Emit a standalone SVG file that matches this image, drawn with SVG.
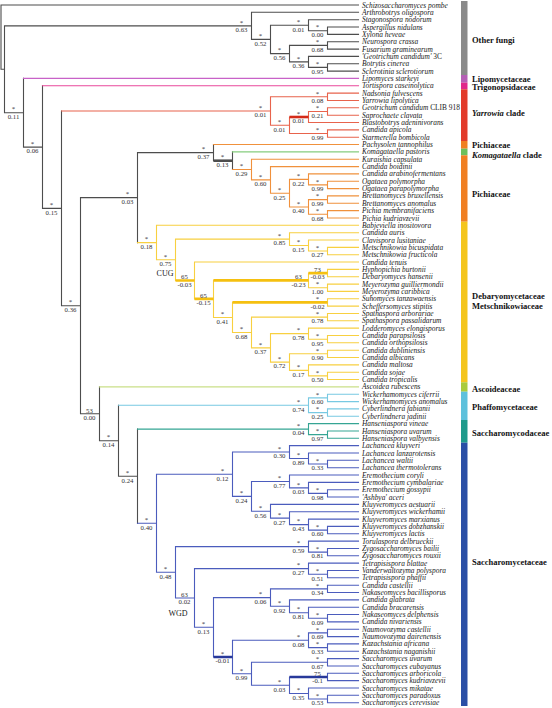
<svg xmlns="http://www.w3.org/2000/svg" width="552" height="708" viewBox="0 0 552 708">
<style>
.c path{fill:none;stroke-width:1.1;stroke-linecap:square}
.c .tk{stroke-width:2.6;stroke-linecap:butt}
.g{stroke:#4d4d4d}.lp{stroke:#c862c8}.tr{stroke:#e9479b}.ya{stroke:#e8634c}.yat{stroke:#d42a18}
.pi{stroke:#f0913c}.ko{stroke:#86cd7e}.cu{stroke:#f8d040}.cut{stroke:#f5c010}.as{stroke:#cadf88}
.ph{stroke:#78c9e2}.hs{stroke:#35a594}.sa{stroke:#4b5cbd}.sat{stroke:#28399a}
.lf text{font-family:"Liberation Serif","Times New Roman",serif;font-size:7.4px;font-style:italic;fill:#1a1a1a}
.lf .r{font-style:normal}
.nv text{font-family:"Liberation Serif","Times New Roman",serif;font-size:6.8px;fill:#333;text-anchor:middle}
.cl{font-family:"Liberation Serif","Times New Roman",serif;font-size:8.5px;font-weight:bold;fill:#111}
.an{font-family:"Liberation Serif","Times New Roman",serif;font-size:8px;fill:#222;text-anchor:middle}
</style>
<rect width="552" height="708" fill="#fff"/>
<g id="connectors" class="c">
<path class="g" d="M1 5V69.3M1 5H358.5M1 69.3H4.5M4.5 25.9V112.75M4.5 25.9H251.5M4.5 112.75H23.5M251.5 12.3V39.4M251.5 12.3H358.5M251.5 39.4H270.5M270.5 25.2V53.65M270.5 25.2H308.5M270.5 53.65H289.5M308.5 19.7V30.7M308.5 19.7H358.5M308.5 30.7H327.5M327.5 27V34.4M327.5 27H358.5M327.5 34.4H358.5M289.5 45.4V61.9M289.5 45.4H327.5M289.5 61.9H308.5M327.5 41.7V49.1M327.5 41.7H358.5M327.5 49.1H358.5M308.5 56.4V67.4M308.5 56.4H358.5M308.5 67.4H327.5M327.5 63.75V71.1M327.5 63.75H358.5M327.5 71.1H358.5M23.5 78.4V147.1M23.5 147.1H42.5M42.5 85.8V208.35M42.5 208.35H61.5M61.5 111V305.7M61.5 305.7H80.5M80.5 197.6V413.8M80.5 197.6H137.5M80.5 413.8H99.5M137.5 152.6V242.6M137.5 152.6H213.5M213.5 144.5V160.7M232.5 151.9V169.55M99.5 386.9V440.7M99.5 440.7H118.5M118.5 405.25V476.2M118.5 476.2H137.5M137.5 429.1V523.25"/>
<path class="g tk" d="M213.5 160.7H232.5"/>
<path class="lp" d="M23.5 78.4H358.5"/>
<path class="tr" d="M42.5 85.8H358.5"/>
<path class="ya" d="M61.5 111H270.5M270.5 96.8V125.25M270.5 96.8H327.5M270.5 125.25H289.5M327.5 93.1V100.5M327.5 93.1H358.5M327.5 100.5H358.5M289.5 117V133.5M289.5 133.5H327.5M308.5 111.5V122.5M308.5 111.5H327.5M308.5 122.5H358.5M327.5 107.8V115.2M327.5 107.8H358.5M327.5 115.2H358.5M327.5 129.85V137.2M327.5 129.85H358.5M327.5 137.2H358.5"/>
<path class="yat tk" d="M289.5 117H308.5"/>
<path class="pi" d="M213.5 144.5H358.5M232.5 169.55H251.5M251.5 159.2V179.9M251.5 159.2H358.5M251.5 179.9H270.5M270.5 166.6V193.2M270.5 166.6H358.5M270.5 193.2H289.5M289.5 179.4V206.95M289.5 179.4H308.5M289.5 206.95H308.5M308.5 173.9V184.9M308.5 173.9H358.5M308.5 184.9H327.5M327.5 181.3V188.6M327.5 181.3H358.5M327.5 188.6H358.5M308.5 199.6V214.3M308.5 199.6H327.5M308.5 214.3H327.5M327.5 195.9V203.3M327.5 195.9H358.5M327.5 203.3H358.5M327.5 210.6V218M327.5 210.6H358.5M327.5 218H358.5"/>
<path class="ko" d="M232.5 151.9H358.5"/>
<path class="cu" d="M137.5 242.6H156.5M156.5 225.3V259.8M156.5 225.3H358.5M156.5 259.8H175.5M175.5 239.1V280.5M175.5 239.1H289.5M289.5 232.7V245.5M289.5 232.7H358.5M289.5 245.5H308.5M308.5 240V251M308.5 240H358.5M308.5 251H327.5M327.5 247.35V254.7M327.5 247.35H358.5M327.5 254.7H358.5M194.5 262V298.9M194.5 262H358.5M213.5 280.4V317.45M213.5 317.45H232.5M308.5 273.1V287.7M308.5 287.7H327.5M327.5 269.4V276.7M327.5 269.4H358.5M327.5 276.7H358.5M327.5 284.1V291.4M327.5 284.1H358.5M327.5 291.4H358.5M232.5 302.4V332.5M232.5 332.5H251.5M327.5 298.8V306.1M327.5 298.8H358.5M327.5 306.1H358.5M251.5 317.1V347.9M251.5 317.1H327.5M251.5 347.9H270.5M327.5 313.45V320.8M327.5 313.45H358.5M327.5 320.8H358.5M270.5 333.6V362.1M270.5 333.6H308.5M270.5 362.1H289.5M308.5 328.1V339.2M308.5 328.1H358.5M308.5 339.2H327.5M327.5 335.5V342.8M327.5 335.5H358.5M327.5 342.8H358.5M289.5 353.8V370.4M289.5 353.8H327.5M289.5 370.4H308.5M327.5 350.2V357.5M327.5 350.2H358.5M327.5 357.5H358.5M308.5 364.9V375.9M308.5 364.9H358.5M308.5 375.9H327.5M327.5 372.2V379.5M327.5 372.2H358.5M327.5 379.5H358.5"/>
<path class="cut tk" d="M175.5 280.5H194.5M194.5 298.9H213.5M213.5 280.4H308.5M308.5 273.1H327.5M232.5 302.4H327.5"/>
<path class="as" d="M99.5 386.9H358.5"/>
<path class="ph" d="M118.5 405.25H308.5M308.5 397.9V412.6M308.5 397.9H327.5M308.5 412.6H327.5M327.5 394.2V401.6M327.5 394.2H358.5M327.5 401.6H358.5M327.5 408.9V416.3M327.5 408.9H358.5M327.5 416.3H358.5"/>
<path class="hs" d="M137.5 429.1H308.5M308.5 423.6V434.6M308.5 423.6H358.5M308.5 434.6H327.5M327.5 431V438.3M327.5 431H358.5M327.5 438.3H358.5"/>
<path class="sa" d="M137.5 523.25H156.5M156.5 474.2V572.3M156.5 474.2H232.5M156.5 572.3H175.5M232.5 452.05V496.4M232.5 452.05H289.5M232.5 496.4H251.5M289.5 445.6V458.5M289.5 445.6H358.5M289.5 458.5H308.5M308.5 453V464M308.5 453H358.5M308.5 464H327.5M327.5 460.3V467.7M327.5 460.3H358.5M327.5 467.7H358.5M251.5 481.45V511.3M251.5 481.45H289.5M251.5 511.3H270.5M289.5 475V487.9M289.5 475H358.5M289.5 487.9H308.5M308.5 482.4V493.4M308.5 482.4H358.5M308.5 493.4H327.5M327.5 489.7V497.05M327.5 489.7H358.5M327.5 497.05H358.5M270.5 504.4V518.15M270.5 504.4H358.5M270.5 518.15H289.5M289.5 511.7V524.6M289.5 511.7H358.5M289.5 524.6H308.5M308.5 519.1V530.1M308.5 519.1H358.5M308.5 530.1H327.5M327.5 526.4V533.8M327.5 526.4H358.5M327.5 533.8H358.5M175.5 546.6V598M175.5 546.6H308.5M175.5 598H194.5M308.5 541.1V552.1M308.5 541.1H358.5M308.5 552.1H327.5M327.5 548.5V555.8M327.5 548.5H358.5M327.5 555.8H358.5M194.5 568.65V627.3M194.5 568.65H308.5M194.5 627.3H213.5M308.5 563.1V574.2M308.5 563.1H358.5M308.5 574.2H327.5M327.5 570.5V577.8M327.5 570.5H358.5M327.5 577.8H358.5M213.5 597.6V657M213.5 597.6H270.5M270.5 588.85V606.3M270.5 588.85H327.5M270.5 606.3H289.5M327.5 585.2V592.5M327.5 585.2H358.5M327.5 592.5H358.5M289.5 599.9V612.7M289.5 599.9H358.5M289.5 612.7H308.5M308.5 607.2V618.2M308.5 607.2H358.5M308.5 618.2H327.5M327.5 614.55V621.9M327.5 614.55H358.5M327.5 621.9H358.5M232.5 640.25V673.8M232.5 640.25H308.5M232.5 673.8H251.5M308.5 632.9V647.6M308.5 632.9H327.5M308.5 647.6H327.5M327.5 629.2V636.6M327.5 629.2H358.5M327.5 636.6H358.5M327.5 643.9V651.3M327.5 643.9H358.5M327.5 651.3H358.5M251.5 662.3V685.25M251.5 662.3H327.5M251.5 685.25H289.5M327.5 658.6V666M327.5 658.6H358.5M327.5 666H358.5M289.5 677V693.5M289.5 693.5H308.5M327.5 673.3V680.65M327.5 673.3H358.5M327.5 680.65H358.5M308.5 688V699M308.5 688H358.5M308.5 699H327.5M327.5 695.3V702.7M327.5 695.3H358.5M327.5 702.7H358.5"/>
<path class="sat tk" d="M213.5 657H232.5M289.5 677H327.5"/>
</g>
<g id="taxa" class="lf">
<g id="t00"><text x="362" y="7.5">Schizosaccharomyces pombe</text></g>
<g id="t01"><text x="362" y="14.8">Arthrobotrys oligospora</text></g>
<g id="t02"><text x="362" y="22.2">Stagonospora nodorum</text></g>
<g id="t03"><text x="362" y="29.5">Aspergillus nidulans</text></g>
<g id="t04"><text x="362" y="36.9">Xylona heveae</text></g>
<g id="t05"><text x="362" y="44.2">Neurospora crassa</text></g>
<g id="t06"><text x="362" y="51.6">Fusarium graminearum</text></g>
<g id="t07"><text x="362" y="58.9">'Geotrichum candidum'<tspan class="r"> 3C</tspan></text></g>
<g id="t08"><text x="362" y="66.3">Botrytis cinerea</text></g>
<g id="t09"><text x="362" y="73.6">Sclerotinia sclerotiorum</text></g>
<g id="t10"><text x="362" y="80.9">Lipomyces starkeyi</text></g>
<g id="t11"><text x="362" y="88.3">Tortispora caseinolytica</text></g>
<g id="t12"><text x="362" y="95.6">Nadsonia fulvescens</text></g>
<g id="t13"><text x="362" y="103">Yarrowia lipolytica</text></g>
<g id="t14"><text x="362" y="110.3">Geotrichum candidum<tspan class="r"> CLIB 918</tspan></text></g>
<g id="t15"><text x="362" y="117.7">Saprochaete clavata</text></g>
<g id="t16"><text x="362" y="125">Blastobotrys adeninivorans</text></g>
<g id="t17"><text x="362" y="132.4">Candida apicola</text></g>
<g id="t18"><text x="362" y="139.7">Starmerella bombicola</text></g>
<g id="t19"><text x="362" y="147">Pachysolen tannophilus</text></g>
<g id="t20"><text x="362" y="154.4">Komagataella pastoris</text></g>
<g id="t21"><text x="362" y="161.7">Kuraishia capsulata</text></g>
<g id="t22"><text x="362" y="169.1">Candida boidinii</text></g>
<g id="t23"><text x="362" y="176.4">Candida arabinofermentans</text></g>
<g id="t24"><text x="362" y="183.8">Ogataea polymorpha</text></g>
<g id="t25"><text x="362" y="191.1">Ogataea parapolymorpha</text></g>
<g id="t26"><text x="362" y="198.4">Brettanomyces bruxellensis</text></g>
<g id="t27"><text x="362" y="205.8">Brettanomyces anomalus</text></g>
<g id="t28"><text x="362" y="213.1">Pichia membranifaciens</text></g>
<g id="t29"><text x="362" y="220.5">Pichia kudriavzevii</text></g>
<g id="t30"><text x="362" y="227.8">Babjeviella inositovora</text></g>
<g id="t31"><text x="362" y="235.2">Candida auris</text></g>
<g id="t32"><text x="362" y="242.5">Clavispora lusitaniae</text></g>
<g id="t33"><text x="362" y="249.9">Metschnikowia bicuspidata</text></g>
<g id="t34"><text x="362" y="257.2">Metschnikowia fructicola</text></g>
<g id="t35"><text x="362" y="264.5">Candida tenuis</text></g>
<g id="t36"><text x="362" y="271.9">Hyphopichia burtonii</text></g>
<g id="t37"><text x="362" y="279.2">Debaryomyces hansenii</text></g>
<g id="t38"><text x="362" y="286.6">Meyerozyma guilliermondii</text></g>
<g id="t39"><text x="362" y="293.9">Meyerozyma caribbica</text></g>
<g id="t40"><text x="362" y="301.3">Suhomyces tanzawaensis</text></g>
<g id="t41"><text x="362" y="308.6">Scheffersomyces stipitis</text></g>
<g id="t42"><text x="362" y="316">Spathaspora arborariae</text></g>
<g id="t43"><text x="362" y="323.3">Spathaspora passalidarum</text></g>
<g id="t44"><text x="362" y="330.6">Lodderomyces elongisporus</text></g>
<g id="t45"><text x="362" y="338">Candida parapsilosis</text></g>
<g id="t46"><text x="362" y="345.3">Candida orthopsilosis</text></g>
<g id="t47"><text x="362" y="352.7">Candida dubliniensis</text></g>
<g id="t48"><text x="362" y="360">Candida albicans</text></g>
<g id="t49"><text x="362" y="367.4">Candida maltosa</text></g>
<g id="t50"><text x="362" y="374.7">Candida sojae</text></g>
<g id="t51"><text x="362" y="382">Candida tropicalis</text></g>
<g id="t52"><text x="362" y="389.4">Ascoidea rubescens</text></g>
<g id="t53"><text x="362" y="396.7">Wickerhamomyces ciferrii</text></g>
<g id="t54"><text x="362" y="404.1">Wickerhamomyces anomalus</text></g>
<g id="t55"><text x="362" y="411.4">Cyberlindnera fabianii</text></g>
<g id="t56"><text x="362" y="418.8">Cyberlindnera jadinii</text></g>
<g id="t57"><text x="362" y="426.1">Hanseniaspora vineae</text></g>
<g id="t58"><text x="362" y="433.5">Hanseniaspora uvarum</text></g>
<g id="t59"><text x="362" y="440.8">Hanseniaspora valbyensis</text></g>
<g id="t60"><text x="362" y="448.1">Lachancea kluyveri</text></g>
<g id="t61"><text x="362" y="455.5">Lachancea lanzarotensis</text></g>
<g id="t62"><text x="362" y="462.8">Lachancea waltii</text></g>
<g id="t63"><text x="362" y="470.2">Lachancea thermotolerans</text></g>
<g id="t64"><text x="362" y="477.5">Eremothecium coryli</text></g>
<g id="t65"><text x="362" y="484.9">Eremothecium cymbalariae</text></g>
<g id="t66"><text x="362" y="492.2">Eremothecium gossypii</text></g>
<g id="t67"><text x="362" y="499.6">'Ashbya' aceri</text></g>
<g id="t68"><text x="362" y="506.9">Kluyveromyces aestuarii</text></g>
<g id="t69"><text x="362" y="514.2">Kluyveromyces wickerhamii</text></g>
<g id="t70"><text x="362" y="521.6">Kluyveromyces marxianus</text></g>
<g id="t71"><text x="362" y="528.9">Kluyveromyces dobzhanskii</text></g>
<g id="t72"><text x="362" y="536.3">Kluyveromyces lactis</text></g>
<g id="t73"><text x="362" y="543.6">Torulaspora delbrueckii</text></g>
<g id="t74"><text x="362" y="551">Zygosaccharomyces bailii</text></g>
<g id="t75"><text x="362" y="558.3">Zygosaccharomyces rouxii</text></g>
<g id="t76"><text x="362" y="565.6">Tetrapisispora blattae</text></g>
<g id="t77"><text x="362" y="573">Vanderwaltozyma polyspora</text></g>
<g id="t78"><text x="362" y="580.3">Tetrapisispora phaffii</text></g>
<g id="t79"><text x="362" y="587.7">Candida castellii</text></g>
<g id="t80"><text x="362" y="595">Nakaseomyces bacillisporus</text></g>
<g id="t81"><text x="362" y="602.4">Candida glabrata</text></g>
<g id="t82"><text x="362" y="609.7">Candida bracarensis</text></g>
<g id="t83"><text x="362" y="617.1">Nakaseomyces delphensis</text></g>
<g id="t84"><text x="362" y="624.4">Candida nivariensis</text></g>
<g id="t85"><text x="362" y="631.7">Naumovozyma castellii</text></g>
<g id="t86"><text x="362" y="639.1">Naumovozyma dairenensis</text></g>
<g id="t87"><text x="362" y="646.4">Kazachstania africana</text></g>
<g id="t88"><text x="362" y="653.8">Kazachstania naganishii</text></g>
<g id="t89"><text x="362" y="661.1">Saccharomyces uvarum</text></g>
<g id="t90"><text x="362" y="668.5">Saccharomyces eubayanus</text></g>
<g id="t91"><text x="362" y="675.8">Saccharomyces arboricola</text></g>
<g id="t92"><text x="362" y="683.2">Saccharomyces kudriavzevii</text></g>
<g id="t93"><text x="362" y="690.5">Saccharomyces mikatae</text></g>
<g id="t94"><text x="362" y="697.8">Saccharomyces paradoxus</text></g>
<g id="t95"><text x="362" y="705.2">Saccharomyces cerevisiae</text></g>
</g>
<g id="nodes" class="nv">
<g id="nB" transform="translate(13.5 112.75)"><text y="-1.3">*</text><text y="6.4">0.11</text></g>
<g id="nC" transform="translate(32.5 147.1)"><text y="-1.3">*</text><text y="6.4">0.06</text></g>
<g id="nD" transform="translate(51.5 208.35)"><text y="-1.3">*</text><text y="6.4">0.15</text></g>
<g id="nE" transform="translate(70.5 305.7)"><text y="-1.3">*</text><text y="6.4">0.36</text></g>
<g id="nF" transform="translate(89.5 413.8)"><text y="-1.3">53</text><text y="6.4">0.00</text></g>
<g id="nG" transform="translate(108.5 440.7)"><text y="-1.3">*</text><text y="6.4">0.14</text></g>
<g id="nH" transform="translate(127.5 476.2)"><text y="-1.3">*</text><text y="6.4">0.24</text></g>
<g id="nI" transform="translate(146.5 523.25)"><text y="-1.3">*</text><text y="6.4">0.40</text></g>
<g id="nOF" transform="translate(241.5 25.9)"><text y="-1.3">*</text><text y="6.4">0.63</text></g>
<g id="nOF2" transform="translate(260.5 39.4)"><text y="-1.3">*</text><text y="6.4">0.52</text></g>
<g id="nN1" transform="translate(298.5 25.2)"><text y="-1.3">*</text><text y="6.4">0.01</text></g>
<g id="nN1a" transform="translate(317.5 30.7)"><text y="-1.3">*</text><text y="6.4">0.00</text></g>
<g id="nN2" transform="translate(279.5 53.65)"><text y="-1.3">*</text><text y="6.4">0.56</text></g>
<g id="nN2a" transform="translate(317.5 45.4)"><text y="-1.3">*</text><text y="6.4">0.68</text></g>
<g id="nN2b" transform="translate(298.5 61.9)"><text y="-1.3">*</text><text y="6.4">0.36</text></g>
<g id="nN2c" transform="translate(317.5 67.4)"><text y="-1.3">*</text><text y="6.4">0.95</text></g>
<g id="nY" transform="translate(260.5 111)"><text y="-1.3">*</text><text y="6.4">0.01</text></g>
<g id="nY1" transform="translate(317.5 96.8)"><text y="-1.3">*</text><text y="6.4">0.08</text></g>
<g id="nY2" transform="translate(279.5 125.25)"><text y="-1.3">*</text><text y="6.4">0.01</text></g>
<g id="nY3" transform="translate(298.5 117)"><text y="-1.3">*</text><text y="6.4">0.01</text></g>
<g id="nY3a" transform="translate(317.5 111.5)"><text y="-1.3">*</text><text y="6.4">0.21</text></g>
<g id="nY4" transform="translate(317.5 133.5)"><text y="-1.3">*</text><text y="6.4">0.99</text></g>
<g id="nJ" transform="translate(127.5 197.6)"><text y="-1.3">*</text><text y="6.4">0.03</text></g>
<g id="nP" transform="translate(203.5 152.6)"><text y="-1.3">*</text><text y="6.4">0.37</text></g>
<g id="nP2" transform="translate(222.5 160.7)"><text y="-1.3">*</text><text y="6.4">0.13</text></g>
<g id="nP3" transform="translate(241.5 169.55)"><text y="-1.3">*</text><text y="6.4">0.29</text></g>
<g id="nP4" transform="translate(260.5 179.9)"><text y="-1.3">*</text><text y="6.4">0.60</text></g>
<g id="nP5" transform="translate(279.5 193.2)"><text y="-1.3">*</text><text y="6.4">0.25</text></g>
<g id="nP6" transform="translate(298.5 179.4)"><text y="-1.3">*</text><text y="6.4">0.22</text></g>
<g id="nP6a" transform="translate(317.5 184.9)"><text y="-1.3">*</text><text y="6.4">0.99</text></g>
<g id="nP7" transform="translate(298.5 206.95)"><text y="-1.3">*</text><text y="6.4">0.40</text></g>
<g id="nP7a" transform="translate(317.5 199.6)"><text y="-1.3">*</text><text y="6.4">0.99</text></g>
<g id="nP7b" transform="translate(317.5 214.3)"><text y="-1.3">*</text><text y="6.4">0.68</text></g>
<g id="nCUG" transform="translate(146.5 242.6)"><text y="-1.3">*</text><text y="6.4">0.18</text></g>
<g id="nCUG2" transform="translate(165.5 259.8)"><text y="-1.3">*</text><text y="6.4">0.75</text></g>
<g id="nM" transform="translate(279.5 239.1)"><text y="-1.3">*</text><text y="6.4">0.85</text></g>
<g id="nM2" transform="translate(298.5 245.5)"><text y="-1.3">*</text><text y="6.4">0.15</text></g>
<g id="nM3" transform="translate(317.5 251)"><text y="-1.3">*</text><text y="6.4">0.27</text></g>
<g id="nD1" transform="translate(184.5 280.5)"><text y="-1.3">65</text><text y="6.4">-0.03</text></g>
<g id="nD2" transform="translate(203.5 298.9)"><text y="-1.3">65</text><text y="6.4">-0.15</text></g>
<g id="nD3" transform="translate(298.5 280.4)"><text y="-1.3">63</text><text y="6.4">-0.23</text></g>
<g id="nD3a" transform="translate(317.5 273.1)"><text y="-1.3">73</text><text y="6.4">-0.03</text></g>
<g id="nD3b" transform="translate(317.5 287.7)"><text y="-1.3">*</text><text y="6.4">1.00</text></g>
<g id="nD4" transform="translate(222.5 317.45)"><text y="-1.3">*</text><text y="6.4">0.41</text></g>
<g id="nD5" transform="translate(317.5 302.4)"><text y="-1.3">*</text><text y="6.4">-0.02</text></g>
<g id="nD6" transform="translate(241.5 332.5)"><text y="-1.3">*</text><text y="6.4">0.68</text></g>
<g id="nD7" transform="translate(317.5 317.1)"><text y="-1.3">*</text><text y="6.4">0.78</text></g>
<g id="nD8" transform="translate(260.5 347.9)"><text y="-1.3">*</text><text y="6.4">0.37</text></g>
<g id="nD9" transform="translate(298.5 333.6)"><text y="-1.3">*</text><text y="6.4">0.78</text></g>
<g id="nD9a" transform="translate(317.5 339.2)"><text y="-1.3">*</text><text y="6.4">0.95</text></g>
<g id="nD10" transform="translate(279.5 362.1)"><text y="-1.3">*</text><text y="6.4">0.72</text></g>
<g id="nD10a" transform="translate(317.5 353.8)"><text y="-1.3">*</text><text y="6.4">0.90</text></g>
<g id="nD10b" transform="translate(298.5 370.4)"><text y="-1.3">*</text><text y="6.4">0.17</text></g>
<g id="nD10c" transform="translate(317.5 375.9)"><text y="-1.3">*</text><text y="6.4">0.50</text></g>
<g id="nPh" transform="translate(298.5 405.25)"><text y="-1.3">*</text><text y="6.4">0.74</text></g>
<g id="nPh1" transform="translate(317.5 397.9)"><text y="-1.3">*</text><text y="6.4">0.60</text></g>
<g id="nPh2" transform="translate(317.5 412.6)"><text y="-1.3">*</text><text y="6.4">0.25</text></g>
<g id="nHs" transform="translate(298.5 429.1)"><text y="-1.3">*</text><text y="6.4">0.04</text></g>
<g id="nHs1" transform="translate(317.5 434.6)"><text y="-1.3">*</text><text y="6.4">0.97</text></g>
<g id="nK1" transform="translate(222.5 474.2)"><text y="-1.3">*</text><text y="6.4">0.12</text></g>
<g id="nLa" transform="translate(279.5 452.05)"><text y="-1.3">*</text><text y="6.4">0.30</text></g>
<g id="nLa1" transform="translate(298.5 458.5)"><text y="-1.3">*</text><text y="6.4">0.89</text></g>
<g id="nLa2" transform="translate(317.5 464)"><text y="-1.3">*</text><text y="6.4">0.33</text></g>
<g id="nK2" transform="translate(241.5 496.4)"><text y="-1.3">*</text><text y="6.4">0.24</text></g>
<g id="nEr" transform="translate(279.5 481.45)"><text y="-1.3">*</text><text y="6.4">0.77</text></g>
<g id="nEr1" transform="translate(298.5 487.9)"><text y="-1.3">*</text><text y="6.4">0.03</text></g>
<g id="nEr2" transform="translate(317.5 493.4)"><text y="-1.3">*</text><text y="6.4">0.98</text></g>
<g id="nKl" transform="translate(260.5 511.3)"><text y="-1.3">*</text><text y="6.4">0.56</text></g>
<g id="nKl1" transform="translate(279.5 518.15)"><text y="-1.3">*</text><text y="6.4">0.27</text></g>
<g id="nKl2" transform="translate(298.5 524.6)"><text y="-1.3">*</text><text y="6.4">0.43</text></g>
<g id="nKl3" transform="translate(317.5 530.1)"><text y="-1.3">*</text><text y="6.4">0.60</text></g>
<g id="nW" transform="translate(165.5 572.3)"><text y="-1.3">*</text><text y="6.4">0.48</text></g>
<g id="nTo" transform="translate(298.5 546.6)"><text y="-1.3">*</text><text y="6.4">0.59</text></g>
<g id="nZy" transform="translate(317.5 552.1)"><text y="-1.3">*</text><text y="6.4">0.81</text></g>
<g id="nWGD" transform="translate(184.5 598)"><text y="-1.3">63</text><text y="6.4">0.02</text></g>
<g id="nTe" transform="translate(298.5 568.65)"><text y="-1.3">*</text><text y="6.4">0.27</text></g>
<g id="nTe1" transform="translate(317.5 574.2)"><text y="-1.3">*</text><text y="6.4">0.51</text></g>
<g id="nX" transform="translate(203.5 627.3)"><text y="-1.3">*</text><text y="6.4">0.13</text></g>
<g id="nNa" transform="translate(260.5 597.6)"><text y="-1.3">*</text><text y="6.4">0.06</text></g>
<g id="nNa1" transform="translate(317.5 588.85)"><text y="-1.3">*</text><text y="6.4">0.34</text></g>
<g id="nNa2" transform="translate(279.5 606.3)"><text y="-1.3">*</text><text y="6.4">0.92</text></g>
<g id="nNa3" transform="translate(298.5 612.7)"><text y="-1.3">*</text><text y="6.4">0.81</text></g>
<g id="nNa4" transform="translate(317.5 618.2)"><text y="-1.3">*</text><text y="6.4">0.09</text></g>
<g id="nX2" transform="translate(222.5 657)"><text y="-1.3">*</text><text y="6.4">-0.01</text></g>
<g id="nNk" transform="translate(298.5 640.25)"><text y="-1.3">*</text><text y="6.4">0.08</text></g>
<g id="nNm" transform="translate(317.5 632.9)"><text y="-1.3">*</text><text y="6.4">0.69</text></g>
<g id="nKz" transform="translate(317.5 647.6)"><text y="-1.3">*</text><text y="6.4">0.33</text></g>
<g id="nSc" transform="translate(241.5 673.8)"><text y="-1.3">*</text><text y="6.4">0.99</text></g>
<g id="nSc1" transform="translate(317.5 662.3)"><text y="-1.3">*</text><text y="6.4">0.67</text></g>
<g id="nSc2" transform="translate(279.5 685.25)"><text y="-1.3">*</text><text y="6.4">0.03</text></g>
<g id="nSc3" transform="translate(317.5 677)"><text y="-1.3">75</text><text y="6.4">-0.1</text></g>
<g id="nSc4" transform="translate(298.5 693.5)"><text y="-1.3">*</text><text y="6.4">0.35</text></g>
<g id="nSc5" transform="translate(317.5 699)"><text y="-1.3">*</text><text y="6.4">0.53</text></g>
</g>
<g id="events">
<text class="an" x="165" y="276">CUG</text>
<text class="an" x="178" y="615.5">WGD</text>
</g>
<g id="colorbar">
<rect x="461" y="1" width="6.5" height="74" fill="#8a8a8a"/>
<rect x="461" y="75" width="6.5" height="7.7" fill="#b560b5"/>
<rect x="461" y="82.7" width="6.5" height="6.6" fill="#e0288a"/>
<rect x="461" y="89.3" width="6.5" height="51.7" fill="#e23b2a"/>
<rect x="461" y="141" width="6.5" height="7.7" fill="#f07f22"/>
<rect x="461" y="148.7" width="6.5" height="6.6" fill="#6cbf5c"/>
<rect x="461" y="155.3" width="6.5" height="66.4" fill="#f07f22"/>
<rect x="461" y="221.7" width="6.5" height="160.6" fill="#f4c51c"/>
<rect x="461" y="382.3" width="6.5" height="9.4" fill="#a9cb3c"/>
<rect x="461" y="391.7" width="6.5" height="28.3" fill="#5ec1dc"/>
<rect x="461" y="420" width="6.5" height="22.7" fill="#1f9a8b"/>
<rect x="461" y="442.7" width="6.5" height="263.3" fill="#2a4fa6"/>
</g>
<g id="clades" class="cl">
<text x="472" y="43">Other fungi</text>
<text x="472" y="82">Lipomycetaceae</text>
<text x="472" y="89.7">Trigonopsidaceae</text>
<text x="472" y="115.7"><tspan font-style="italic">Yarrowia</tspan> clade</text>
<text x="472" y="148.3">Pichiaceae</text>
<text x="472" y="157.6"><tspan font-style="italic">Komagataella</tspan> clade</text>
<text x="472" y="197.3">Pichiaceae</text>
<text x="472" y="298.7">Debaryomycetaceae</text>
<text x="472" y="308.7">Metschnikowiaceae</text>
<text x="472" y="392">Ascoideaceae</text>
<text x="472" y="409.7">Phaffomycetaceae</text>
<text x="472" y="435.7">Saccharomycodaceae</text>
<text x="472" y="564.7">Saccharomycetaceae</text>
</g>
</svg>
